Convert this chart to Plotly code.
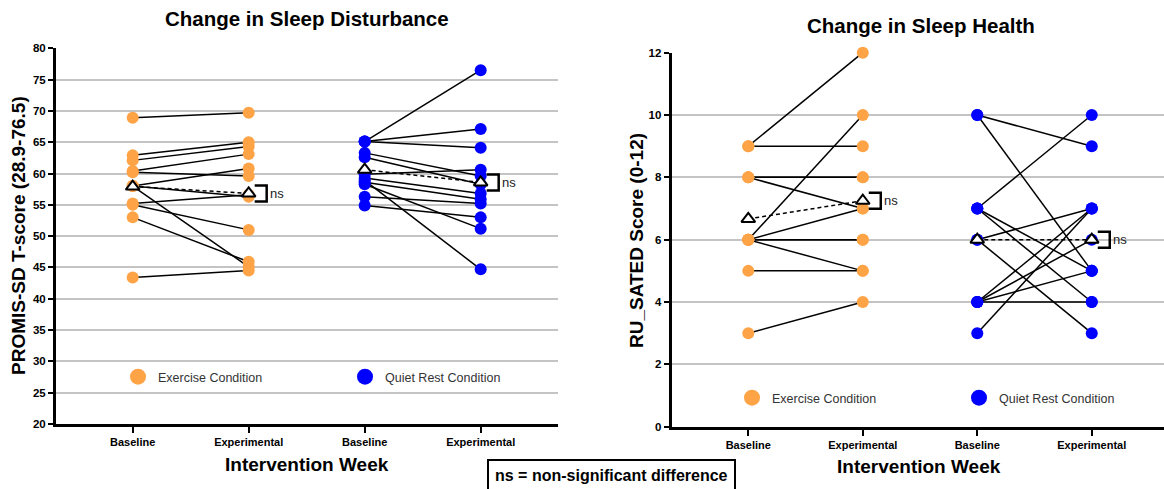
import numpy as np
import plotly.graph_objects as go

# ---- data -------------------------------------------------------------
week_labels = ["Baseline", "Experimental", "Baseline", "Experimental"]
condition_names = ["Exercise Condition", "Quiet Rest Condition"]

# PROMIS-SD T-scores (one value per participant, paired by position)
sd_ex_base = [68.9, 62.9, 62.1, 60.4, 60.2, 58.0, 58.0, 58.0, 55.2, 55.0, 53.0, 43.4]
sd_ex_exp = [69.7, 65.0, 64.3, 63.1, 59.6, 60.8, 56.3, 45.1, 56.6, 51.0, 45.9, 44.5]
sd_qr_base = [65.1, 65.1, 65.1, 63.3, 62.6, 59.9, 59.3, 58.9, 58.6, 58.3, 56.3, 54.9]
sd_qr_exp = [76.5, 67.1, 64.1, 59.6, 58.3, 60.6, 56.8, 44.7, 55.9, 51.2, 55.2, 53.0]

# RU_SATED sleep health scores (0-12)
sh_ex_base = [9, 9, 8, 8, 8, 6, 6, 6, 6, 6, 5, 3]
sh_ex_exp = [12, 9, 8, 8, 7, 10, 7, 6, 6, 5, 5, 4]
sh_qr_base = [10, 10, 7, 7, 7, 6, 6, 4, 4, 4, 4, 3]
sh_qr_exp = [9, 5, 10, 5, 4, 7, 3, 7, 6, 5, 4, 7]

# ---- style ------------------------------------------------------------
ORANGE = "#FFA347"
BLUE = "#0000FF"
GRID = "#C4C4C4"
FONT = "Liberation Sans, Arial, Helvetica, sans-serif"
W, H = 1164, 489


def px_x(v):
    return v / W


def px_y(v):
    return (H - v) / H


fig = go.Figure()


def add_condition(base, exp, x0, color, xa, ya):
    xs, ys = [], []
    for b, e in zip(base, exp):
        xs += [x0, x0 + 1, None]
        ys += [b, e, None]
    # participant trajectories
    fig.add_trace(go.Scatter(
        x=xs, y=ys, mode="lines", xaxis=xa, yaxis=ya,
        line=dict(color="black", width=1.5), showlegend=False, hoverinfo="skip"))
    # participant scores
    fig.add_trace(go.Scatter(
        x=[x0] * len(base) + [x0 + 1] * len(exp), y=list(base) + list(exp),
        mode="markers", xaxis=xa, yaxis=ya, cliponaxis=False,
        marker=dict(color=color, size=12), showlegend=False))
    # group means
    m_b, m_e = float(np.mean(base)), float(np.mean(exp))
    fig.add_trace(go.Scatter(
        x=[x0, x0 + 1], y=[m_b, m_e], mode="lines+markers", xaxis=xa, yaxis=ya,
        cliponaxis=False,
        line=dict(color="black", width=1.5, dash="4px,3px"),
        marker=dict(symbol="triangle-up", size=12, color="white",
                    line=dict(color="black", width=2)),
        showlegend=False))
    # "ns" bracket next to the experimental mean
    fig.add_shape(type="path", xref=xa, yref=ya,
                  xsizemode="pixel", ysizemode="pixel",
                  xanchor=x0 + 1, yanchor=m_e,
                  path="M 6,8 L 18,8 L 18,-8 L 6,-8",
                  line=dict(color="black", width=2.5))
    fig.add_annotation(x=x0 + 1, y=m_e, xref=xa, yref=ya, text="ns",
                       showarrow=False, xanchor="left", yanchor="middle",
                       xshift=19, font=dict(family=FONT, size=13, color="#222"))


add_condition(sd_ex_base, sd_ex_exp, 0, ORANGE, "x", "y")
add_condition(sd_qr_base, sd_qr_exp, 2, BLUE, "x", "y")
add_condition(sh_ex_base, sh_ex_exp, 0, ORANGE, "x2", "y2")
add_condition(sh_qr_base, sh_qr_exp, 2, BLUE, "x2", "y2")

# legend keys: one single-entry legend per condition and panel
legend_specs = [
    ("legend", "x", "y", 0, 137, 377),
    ("legend2", "x", "y", 1, 364, 377),
    ("legend3", "x2", "y2", 0, 751, 398),
    ("legend4", "x2", "y2", 1, 978, 398),
]
legend_layout = {}
for lg, xa, ya, ci, mx, my in legend_specs:
    fig.add_trace(go.Scatter(
        x=[None], y=[None], mode="markers", xaxis=xa, yaxis=ya,
        marker=dict(color=[ORANGE, BLUE][ci], size=16),
        name=condition_names[ci], legend=lg))
    legend_layout[lg] = dict(
        x=px_x(mx - 19), y=px_y(my), xanchor="left", yanchor="middle",
        orientation="h", bgcolor="rgba(0,0,0,0)", itemclick=False,
        itemdoubleclick=False, font=dict(family=FONT, size=12.5, color="#333"))

xcommon = dict(tickvals=[0, 1, 2, 3], ticktext=week_labels, ticks="outside",
               ticklen=6, tickwidth=2, tickcolor="black", showline=True,
               linewidth=3, linecolor="black", showgrid=False, zeroline=False,
               tickfont=dict(family=FONT, size=11, color="black", weight="bold"),
               fixedrange=True)
ycommon = dict(ticks="outside", ticklen=5, tickwidth=2, tickcolor="black",
               showline=True, linewidth=3, linecolor="black", showgrid=True,
               gridcolor=GRID, gridwidth=1.5, zeroline=False,
               tickfont=dict(family=FONT, size=11.5, color="black", weight="bold"),
               fixedrange=True)

fig.update_layout(
    width=W, height=H, margin=dict(l=0, r=0, t=0, b=0, autoexpand=False),
    paper_bgcolor="white", plot_bgcolor="white",
    xaxis=dict(domain=[px_x(56), px_x(557.7)], range=[-0.661, 3.664],
               anchor="y", **xcommon),
    yaxis=dict(domain=[px_y(424), px_y(48.3)], range=[20, 80], dtick=5,
               tick0=20, anchor="x", **ycommon),
    xaxis2=dict(domain=[px_x(671.7), 1.0], range=[-0.669, 3.631],
                anchor="y2", **xcommon),
    yaxis2=dict(domain=[px_y(426.7), px_y(52.7)], range=[0, 12], dtick=2,
                tick0=0, anchor="x2", **ycommon),
    showlegend=True,
    **legend_layout,
)

# titles
title_font = dict(family=FONT, size=20.5, color="black", weight="bold")
axis_title_font = dict(family=FONT, size=19, color="black", weight="bold")
texts = [
    ("Change in Sleep Disturbance", 306.5, 18, 0, title_font),
    ("Change in Sleep Health", 921, 25, 0, title_font),
    ("PROMIS-SD T-score (28.9-76.5)", 18, 236, -90, axis_title_font),
    ("RU_SATED Score (0-12)", 636, 240, -90, axis_title_font),
    ("Intervention Week", 307, 464, 0, axis_title_font),
    ("Intervention Week", 919, 466, 0, axis_title_font),
]
for t, x, y, ang, f in texts:
    fig.add_annotation(text=t, x=px_x(x), y=px_y(y), xref="paper", yref="paper",
                       showarrow=False, xanchor="center", yanchor="middle",
                       textangle=ang, font=f)

fig.add_annotation(text="ns = non-significant difference", x=px_x(611),
                   y=px_y(459), xref="paper", yref="paper", showarrow=False,
                   xanchor="center", yanchor="top", bordercolor="black",
                   borderwidth=2, borderpad=6, bgcolor="white",
                   font=dict(family=FONT, size=16, color="black", weight="bold"))

fig.write_html("out.html")
